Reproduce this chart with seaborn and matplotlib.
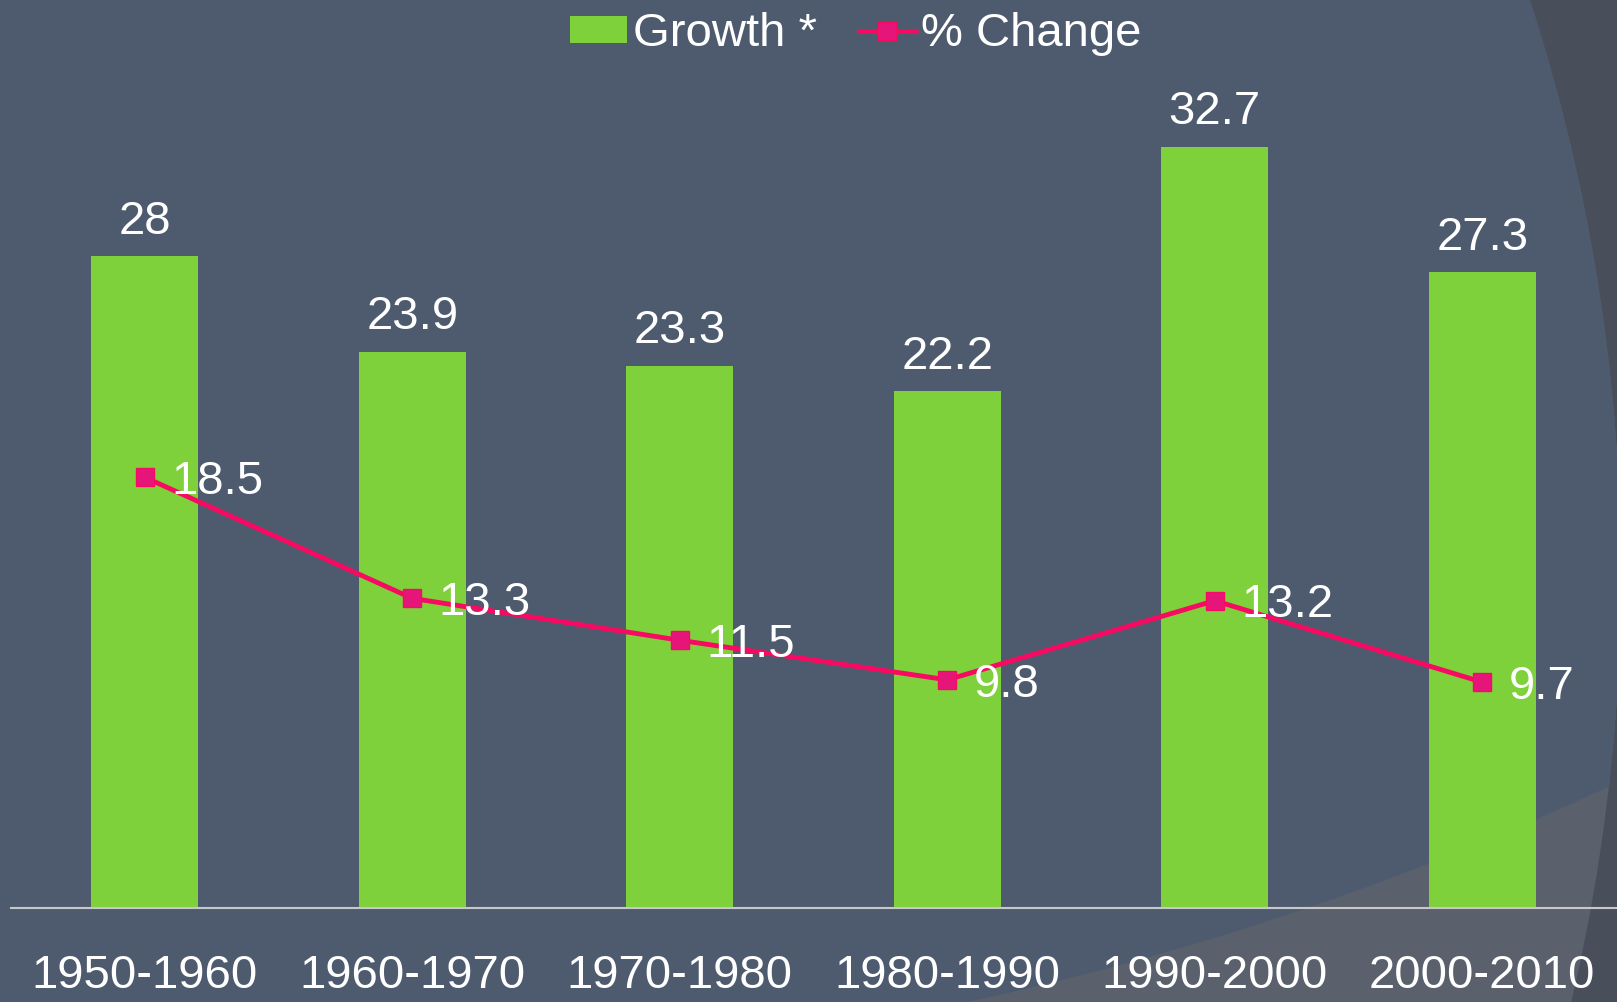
import numpy as np
import pandas as pd
import matplotlib
matplotlib.use('Agg')
import matplotlib.pyplot as plt
import seaborn as sns
from matplotlib.patches import Circle, Patch, Rectangle
from matplotlib.lines import Line2D

# data
periods = ['1950-1960', '1960-1970', '1970-1980', '1980-1990', '1990-2000', '2000-2010']
growth = [28, 23.9, 23.3, 22.2, 32.7, 27.3]
pct_change = [18.5, 13.3, 11.5, 9.8, 13.2, 9.7]
growth_labels = ['28', '23.9', '23.3', '22.2', '32.7', '27.3']
pct_labels = ['18.5', '13.3', '11.5', '9.8', '13.2', '9.7']

BG = '#4E5B6F'
BG_DARK = '#494F5A'
BG_LIGHT = '#5A616C'
GREEN = '#7FD13B'
PINK = '#F70A62'
PINK_FACE = '#E6157A'

sns.set_theme(style='white')
plt.rcParams['font.family'] = ['Liberation Sans', 'DejaVu Sans']

df = pd.DataFrame({'period': periods, 'growth': growth, 'pct': pct_change})

W, H = 1617, 1002
fig = plt.figure(figsize=(W / 100, H / 100), dpi=100)
fig.patch.set_facecolor(BG)

# background decoration (big arcs of the slide theme), in pixel coords
bg = fig.add_axes([0, 0, 1, 1], zorder=0)
bg.set_xlim(0, W)
bg.set_ylim(H, 0)
bg.axis('off')
bg.add_patch(Rectangle((0, 0), W, H, color=BG_DARK, lw=0))
c1 = Circle((-237, 575), 1858, color=BG_LIGHT, lw=0)
bg.add_patch(c1)
c2 = Circle((336, -1941), 3010, color=BG, lw=0)
bg.add_patch(c2)
c2.set_clip_path(c1)

# main chart
ax = fig.add_axes([11 / W, 94 / H, (1616 - 11) / W, 908 / H], zorder=1)
ax.set_facecolor('none')

sns.barplot(data=df, x='period', y='growth', color=GREEN, width=0.4,
            saturation=1, linewidth=0, ax=ax)
sns.lineplot(data=df, x='period', y='pct', sort=False, color=PINK, lw=3.5,
             marker='s', markersize=13, markerfacecolor=PINK_FACE,
             markeredgecolor=PINK, markeredgewidth=1, ax=ax)

for i, (g, p) in enumerate(zip(growth, pct_change)):
    ax.annotate(growth_labels[i], (i, g), xytext=(0, 16), textcoords='offset points',
                ha='center', va='baseline', fontsize=34, color='white')
    ax.annotate(pct_labels[i], (i, p), xytext=(19, -12), textcoords='offset points',
                ha='left', va='baseline', fontsize=34, color='white')

ax.set_xlim(-0.5, 5.5)
ax.set_ylim(0, 39)
ax.set_xlabel('')
ax.set_ylabel('')
ax.set_yticks([])
ax.tick_params(axis='x', length=0, pad=33, labelsize=34, labelcolor='white')
for s in ['left', 'right', 'top']:
    ax.spines[s].set_visible(False)
ax.spines['bottom'].set_color('#C8C8C8')
ax.spines['bottom'].set_linewidth(1.5)

handles = [
    Patch(facecolor=GREEN, edgecolor='none', label='Growth *'),
    Line2D([0], [0], color=PINK, lw=3.5, marker='s', markersize=13,
           markerfacecolor=PINK_FACE, markeredgecolor=PINK, label='% Change'),
]
fig.legend(handles=handles, loc='center', bbox_to_anchor=(856 / W, 1 - 34 / H),
           ncol=2, frameon=False, fontsize=34, labelcolor='white',
           handlelength=1.2, handleheight=0.5, handletextpad=0.12,
           columnspacing=0.9, borderpad=0)

fig.savefig('out.png', dpi=100, facecolor=fig.get_facecolor())
